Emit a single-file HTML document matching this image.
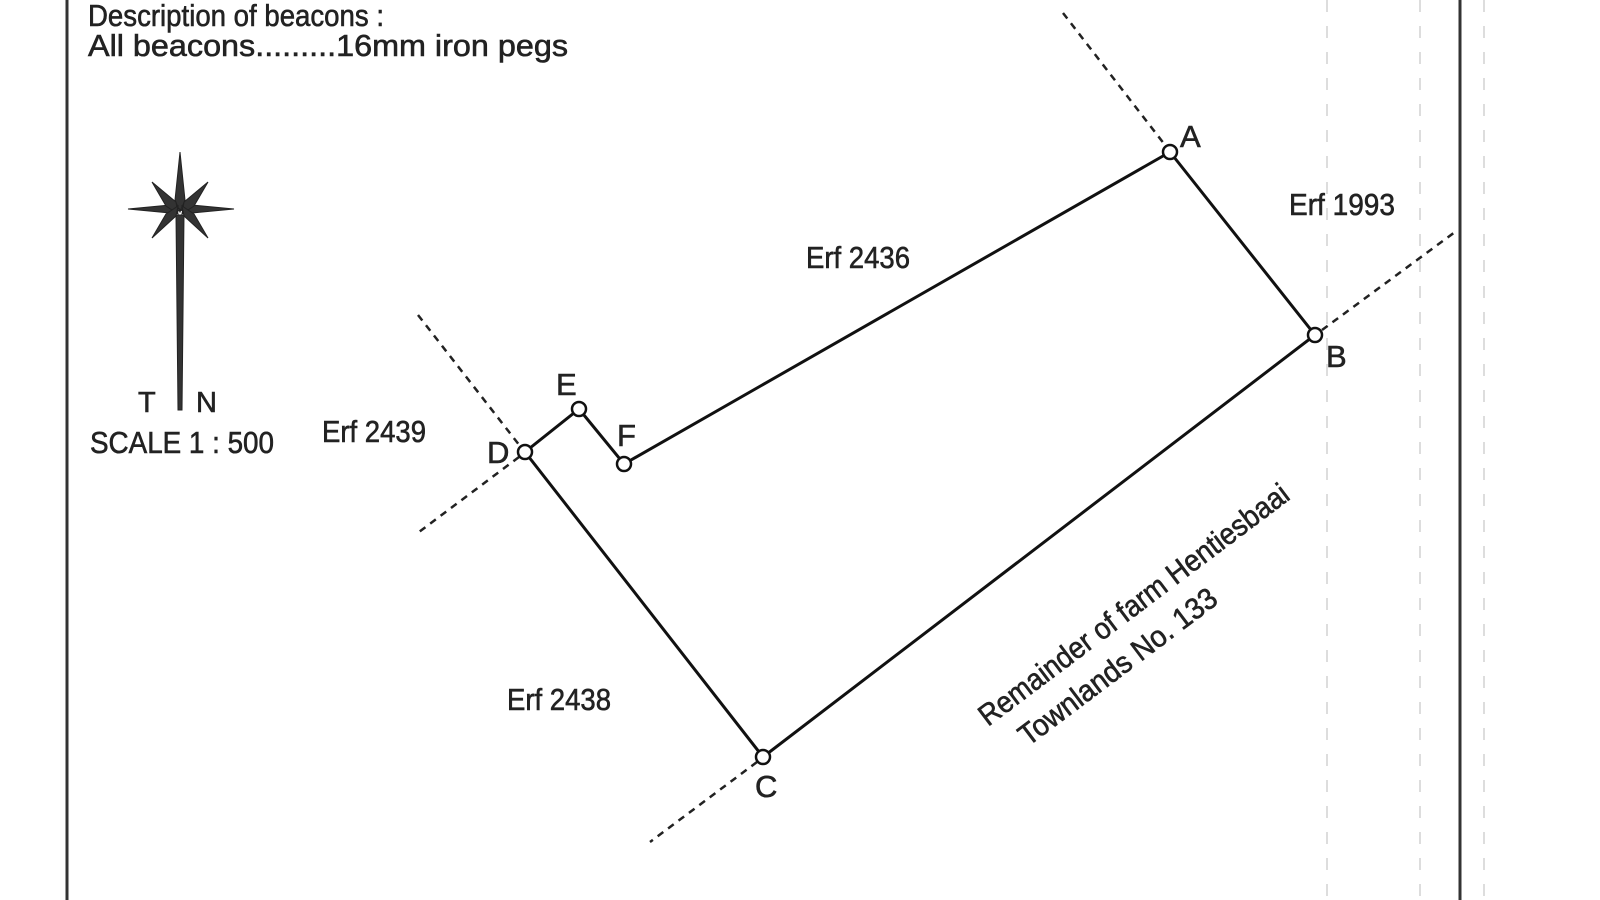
<!DOCTYPE html>
<html><head><style>html,body{margin:0;padding:0;background:#fff}svg{display:block}</style></head>
<body>
<svg width="1600" height="900" viewBox="0 0 1600 900" xmlns="http://www.w3.org/2000/svg" font-family="Liberation Sans, sans-serif" fill="#222">
<rect width="1600" height="900" fill="#fff"/>
<line x1="67" y1="0" x2="67" y2="900" stroke="#333" stroke-width="3"/>
<line x1="1460" y1="0" x2="1460" y2="900" stroke="#333" stroke-width="3"/>
<g stroke="#ddd" stroke-width="2" stroke-dasharray="12 14">
<line x1="1327" y1="0" x2="1327" y2="900"/><line x1="1420" y1="0" x2="1420" y2="900"/><line x1="1484" y1="0" x2="1484" y2="900"/>
</g>
<g stroke="#222" stroke-width="0.6">
<text x="88" y="26" font-size="31" textLength="296" lengthAdjust="spacingAndGlyphs">Description of beacons :</text>
<text x="88" y="56" font-size="31" textLength="480" lengthAdjust="spacingAndGlyphs">All beacons.........16mm  iron  pegs</text>
</g>
<!-- compass -->
<g fill="#333" stroke="#222" stroke-width="1">
<polygon points="180,152 185,200 180,212 175,200"/>
<polygon points="128,209 170,205 182,210 170,213"/>
<polygon points="234,209 192,205 180,210 192,213"/>
<polygon points="152,182 176,202 178,214 166,206" />
<polygon points="208,182 184,202 182,214 194,206" />
<polygon points="152,238 176,216 178,206 166,214" />
<polygon points="208,238 184,216 182,206 194,214" />
<polygon points="176,215 184,215 182,410 178,410"/>
</g>
<g stroke="#222" stroke-width="0.6">
<text x="138" y="412" font-size="29">T</text>
<text x="196" y="412" font-size="29">N</text>
<text x="90" y="453" font-size="31" textLength="184" lengthAdjust="spacingAndGlyphs">SCALE 1 : 500</text>
</g>
<!-- dashed extensions -->
<g stroke="#222" stroke-width="2.5" stroke-dasharray="7 6">
<line x1="1063" y1="13" x2="1165" y2="145"/>
<line x1="1322" y1="330" x2="1455" y2="232"/>
<line x1="418" y1="315" x2="520" y2="446"/>
<line x1="519" y1="457" x2="415" y2="535"/>
<line x1="757" y1="762" x2="650" y2="842"/>
</g>
<!-- boundary -->
<polyline points="1170,152 1315,335 763,757 525,452 579,409 624,464 1170,152" fill="none" stroke="#111" stroke-width="3"/>
<g fill="#fff" stroke="#111" stroke-width="2.5">
<circle cx="1170" cy="152" r="7"/><circle cx="1315" cy="335" r="7"/><circle cx="763" cy="757" r="7"/>
<circle cx="525" cy="452" r="7"/><circle cx="579" cy="409" r="7"/><circle cx="624" cy="464" r="7"/>
</g>
<g font-size="31" stroke="#222" stroke-width="0.6">
<text x="1180" y="147">A</text>
<text x="1326" y="367">B</text>
<text x="755" y="797">C</text>
<text x="487" y="463">D</text>
<text x="556" y="395">E</text>
<text x="617" y="446">F</text>
<text x="806" y="268" textLength="104" lengthAdjust="spacingAndGlyphs">Erf 2436</text>
<text x="1289" y="215" textLength="106" lengthAdjust="spacingAndGlyphs">Erf 1993</text>
<text x="322" y="442" textLength="104" lengthAdjust="spacingAndGlyphs">Erf 2439</text>
<text x="507" y="710" textLength="104" lengthAdjust="spacingAndGlyphs">Erf 2438</text>
</g>
<g font-size="30" stroke="#222" stroke-width="0.6" transform="translate(988,727) rotate(-37)">
<text x="0" y="0" textLength="380" lengthAdjust="spacingAndGlyphs">Remainder of farm Hentiesbaai</text>
<text x="20" y="40" textLength="240" lengthAdjust="spacingAndGlyphs">Townlands No. 133</text>
</g>
</svg>
</body></html>
